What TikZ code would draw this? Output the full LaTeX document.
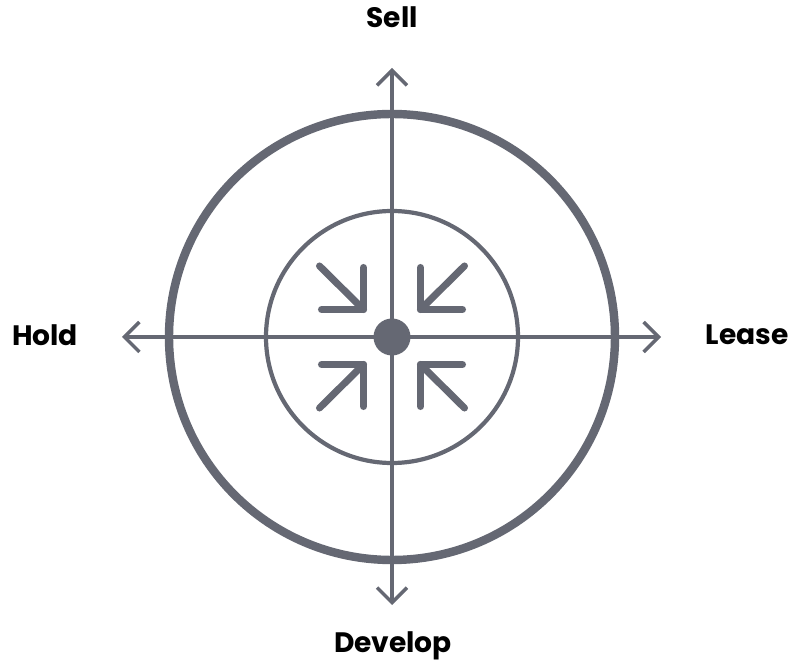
\documentclass[tikz,border=0pt]{standalone}
\usepackage{fontspec}
\setmainfont{Poppins}
\usepackage{tikz}
\usetikzlibrary{arrows.meta, positioning}
\definecolor{slate}{HTML}{656873}

\begin{document}
\begin{tikzpicture}[
		axis/.style={slate, line width=2pt, {Straight Barb[length=8.5pt, width=17pt]}-{Straight Barb[length=8.5pt, width=17pt]}},
		icon/.style={slate, line width=4pt, line cap=round, line join=round},
		label/.style={font=\fontsize{16}{18}\selectfont\bfseries, text=black, inner sep=0pt}]
			\useasboundingbox (-7.84,-6.46) rectangle (8.04,6.74);
			\coordinate (O) at (0,0);
			\coordinate (top) at (0,5.38);
			\coordinate (bottom) at (0,-5.36);
			\coordinate (left) at (-5.40,0);
			\coordinate (right) at (5.38,0);
			\draw[slate, line width=4.8pt] (O) circle (4.46);
			\draw[slate, line width=2.4pt] (O) circle (2.52);
			\draw[axis] (bottom) -- (top);
			\draw[axis] (left) -- (right);
			\node[circle, fill=slate, minimum size=0.74cm, inner sep=0pt] (hub) at (O) {};
			% arrows pointing to the middle
			\foreach \sx/\sy in {1/1,-1/1,1/-1,-1/-1}{
				\draw[icon] (\sx*1.45,\sy*1.42) -- (\sx*0.57,\sy*0.55);
				\draw[icon] (\sx*0.57,\sy*1.39) -- (\sx*0.57,\sy*0.55) -- (\sx*1.41,\sy*0.55);
			}
			\node[label] (sell) at (0,6.40) {Sell};
			\node[label] (develop) at (0.02,-6.17) {Develop};
			\node[label] (hold) at (-6.94,0.04) {Hold};
			\node[label] (lease) at (7.10,0.04) {Lease};
		\end{tikzpicture}
\end{document}
